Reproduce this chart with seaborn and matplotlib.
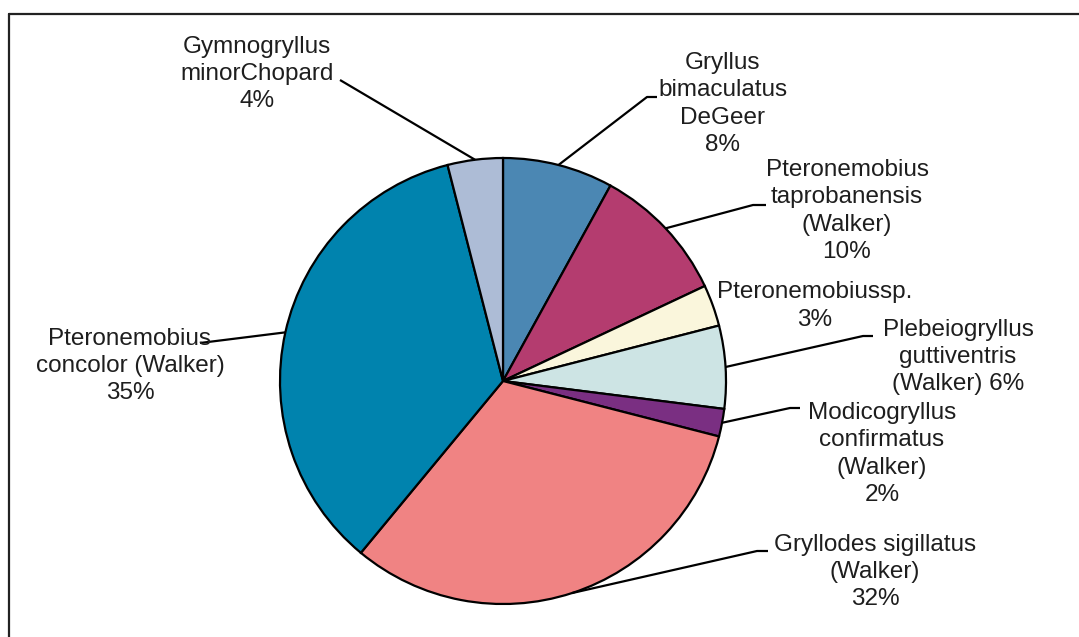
import numpy as np
import matplotlib
matplotlib.use("Agg")
import matplotlib.pyplot as plt
import seaborn as sns

# species data (clockwise from the top)
species = [
    "Gryllus\nbimaculatus\nDeGeer",
    "Pteronemobius\ntaprobanensis\n(Walker)",
    "Pteronemobiussp.",
    "Plebeiogryllus\nguttiventris\n(Walker)",
    "Modicogryllus\nconfirmatus\n(Walker)",
    "Gryllodes sigillatus\n(Walker)",
    "Pteronemobius\nconcolor (Walker)",
    "Gymnogryllus\nminorChopard",
]
shares = [8, 10, 3, 6, 2, 32, 35, 4]
colors = ["#4b87b3", "#b43c6f", "#faf6dc", "#cde4e4",
          "#7a2f82", "#f08383", "#0083ae", "#adbcd6"]

sns.set_theme(style="white")
plt.rcParams["font.family"] = ["Liberation Sans", "DejaVu Sans"]

W, H = 1079, 637
fig = plt.figure(figsize=(W / 100, H / 100), dpi=100)
ax = fig.add_axes([0, 0, 1, 1])


def py(y):
    # pixel row -> data y
    return H - y


cx, cy, r = 503, py(381), 223
wedges, _ = ax.pie(shares, colors=sns.color_palette(colors), startangle=90,
                   counterclock=False, center=(cx, cy), radius=r,
                   wedgeprops=dict(edgecolor="black", linewidth=1.6),
                   frame=True)
ax.set_xlim(0, W)
ax.set_ylim(0, H)
ax.set_aspect("equal")
ax.axis("off")

# label layout: text centre, leader elbow, leader end (pixels)
layout = [
    ((723, 104), (647, 97), (657, 97)),
    ((847, 211), (753, 205), (766, 205)),
    ((815, 306), None, None),
    ((958, 357), (863, 336), (873, 336)),
    ((882, 454), (790, 408), (800, 408)),
    ((875, 572), (757, 551), (768, 551)),
    ((130, 366), (200, 343), (200, 343)),
    ((257, 74), (340, 80), (340, 80)),
]

for w, name, pct, (txt, elbow, end) in zip(wedges, species, shares, layout):
    label = f"{name}\n{pct}%"
    if name.startswith("Plebeio"):
        label = f"{name} {pct}%"
    ax.text(txt[0], py(txt[1]), label, ha="center", va="center",
            multialignment="center", fontsize=17.5, color="#1e1e1e",
            linespacing=1.3)
    if elbow is None:
        continue
    ang = np.deg2rad((w.theta1 + w.theta2) / 2)
    sx, sy = cx + r * np.cos(ang), cy + r * np.sin(ang)
    ax.plot([sx, elbow[0], end[0]], [sy, py(elbow[1]), py(end[1])],
            color="black", linewidth=1.6, solid_capstyle="butt")

# partial frame (top and left)
ax.plot([9, W], [py(14), py(14)], color="#222222", linewidth=1.6)
ax.plot([9, 9], [py(14), 0], color="#222222", linewidth=1.6)

fig.savefig("out.png", dpi=100)
